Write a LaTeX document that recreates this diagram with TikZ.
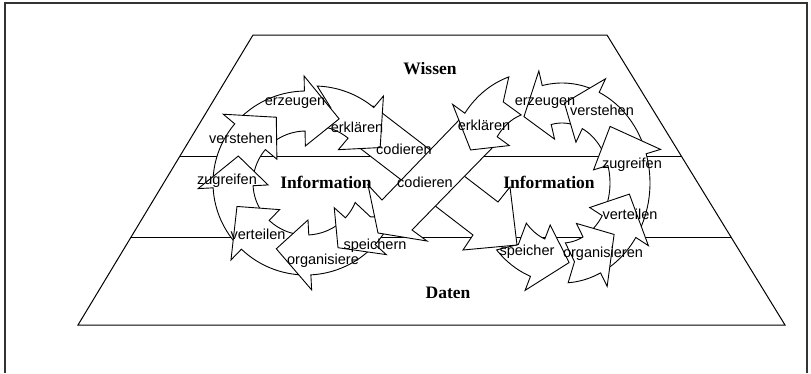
\documentclass[tikz,border=0pt]{standalone}
\usepackage{fontspec}
\setmainfont{Liberation Serif}
\setsansfont{Liberation Sans}
\usepackage{tikz}
\usetikzlibrary{positioning}

% curved block arrow on an ellipse: cx, cy, rx, ry, tail, base, tip (angles)
\newcommand\cycarrow[7]{%
  \filldraw[cyc]
    plot[domain=#5:#6,samples=16] ({#1+(#3+20)*cos(\x)},{#2-(#4+20)*sin(\x)})
    -- ({#1+(#3+35)*cos(#6)},{#2-(#4+35)*sin(#6)})
    -- ({#1+#3*cos(#7)},{#2-#4*sin(#7)})
    -- ({#1+(#3-35)*cos(#6)},{#2-(#4-35)*sin(#6)})
    -- plot[domain=#6:#5,samples=16] ({#1+(#3-20)*cos(\x)},{#2-(#4-20)*sin(\x)})
    -- ({#1+#3*cos(#5+0.3*(#6-#5))},{#2-#4*sin(#5+0.3*(#6-#5))})
    -- cycle;}

\begin{document}
\begin{tikzpicture}
    [x=1pt, y=-1pt,
     cyc/.style={draw, fill=white, line width=0.9pt, line join=miter},
     layer/.style={line width=1pt},
     frame/.style={line width=1.6pt, black!80},
     lbl/.style={font=\sffamily\fontsize{14.5}{16}\selectfont, inner sep=0pt},
     lvl/.style={font=\rmfamily\bfseries\fontsize{17.5}{20}\selectfont, inner sep=0pt}]

    \useasboundingbox (0,0) rectangle (811,373);
    \draw[frame] (5,373) -- (5,3) -- (807,3) -- (807,373);

    % pyramid with three layers
    \draw[layer] (253,35) -- (607,35) -- (785,325) -- (78,325) -- cycle;
    \draw[layer] (180,156) -- (681,156);
    \draw[layer] (131,237) -- (731,237);

    % right cycle, speicher
    \cycarrow{562}{183}{68}{80}{222}{249}{276}

    % codieren, left to right
    \filldraw[cyc] (373,106) -- (498,202) -- (510,187) -- (517,245)
        -- (463,250) -- (473,235) -- (348,139) -- cycle;

    % left cycle
    \cycarrow{314}{178}{73}{72}{88}{50}{25}
    \cycarrow{306}{183}{73}{72}{137}{91}{63}
    \cycarrow{306}{183}{73}{72}{180}{140}{114}
    \cycarrow{306}{183}{73}{72}{222}{183}{158}
    \cycarrow{306}{183}{73}{72}{270}{226}{199}
    \cycarrow{306}{183}{73}{72}{314}{273}{246}
    \cycarrow{306}{183}{73}{72}{338}{318}{296}

    % codieren, right to left
    \filldraw[cyc] (460,119) -- (382,200) -- (368,185) -- (378,233)
        -- (427,241) -- (412,230) -- (496,144) -- cycle;

    % right cycle, the rest
    \cycarrow{536}{172}{68}{80}{108}{144}{164}
    \cycarrow{562}{183}{68}{80}{68}{103}{124}
    \cycarrow{562}{183}{68}{80}{20}{65}{88}
    \cycarrow{562}{183}{68}{80}{-30}{17}{45}
    \cycarrow{562}{183}{68}{80}{299}{327}{352}
    \cycarrow{562}{183}{68}{80}{274}{296}{320}

    % layer names
    \node[lvl] (wissen) at (430,69) {Wissen};
    \node[lvl] (daten) at (448,293) {Daten};
    \node[lvl] (infoL) at (326,182) {Information};
    \node[lvl] (infoR) at (549,182) {Information};

    % left labels
    \node[lbl] (erzL) at (295,103) {erzeugen};
    \node[lbl] (erkL) at (357,127) {erklären};
    \node[lbl] (codA) at (404,149) {codieren};
    \node[lbl] (verL) at (241,138) {verstehen};
    \node[lbl] (zugL) at (227,181) {zugreifen};
    \node[lbl] (codB) at (425,182) {codieren};
    \node[lbl] (vteL) at (258,234) {verteilen};
    \node[lbl] (speL) at (375,246) {speichern};
    \node[lbl] (orgL) at (323,261) {organisiere};

    % right labels
    \node[lbl] (erkR) at (484,125) {erklären};
    \node[lbl] (erzR) at (545,103) {erzeugen};
    \node[lbl] (verR) at (602,110) {verstehen};
    \node[lbl] (zugR) at (632,165) {zugreifen};
    \node[lbl] (vteR) at (630,214) {verteilen};
    \node[lbl] (speR) at (527,252) {speicher};
    \node[lbl] (orgR) at (603,254) {organisieren};
\end{tikzpicture}
\end{document}
